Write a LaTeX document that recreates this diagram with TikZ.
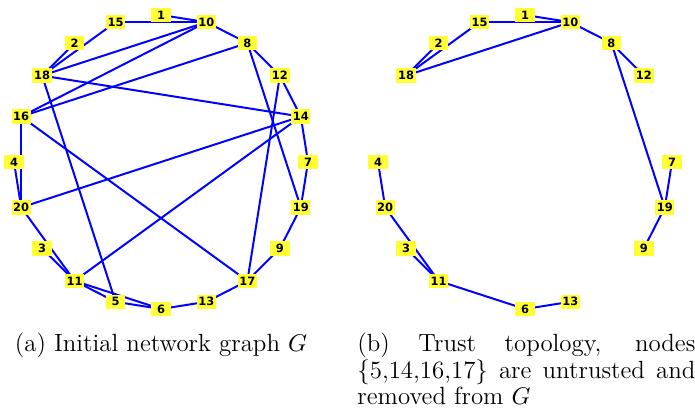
\documentclass[tikz,border=0pt]{standalone}
\usepackage{fontspec}
\newfontfamily\labelfont{DejaVu Sans}
\usetikzlibrary{backgrounds}
\definecolor{nodeyellow}{RGB}{255,255,51}
\definecolor{edgeblue}{RGB}{0,0,255}
\tikzset{
  vertex/.style={fill=nodeyellow, minimum width=8.8pt, minimum height=6.6pt,
    inner sep=0pt, font=\labelfont\bfseries\fontsize{5.2}{5.5}\selectfont},
  link/.style={draw=edgeblue, line width=0.9pt},
  caption/.style={inner sep=0pt, font=\fontsize{11.3}{12}\selectfont},
}
\begin{document}
\begin{tikzpicture}[x=0.4545pt,y=0.4545pt]
\useasboundingbox (0,0) rectangle (695,412);

% (a) initial network graph: 20 nodes on a circle
\begin{scope}[shift={(161,250)}]
  \foreach \n/\t in {1/90,10/72,8/54,12/36,14/18,7/0,19/-18,9/-36,17/-54,13/-72,
                     6/-90,5/-108,11/-126,3/-144,20/-162,4/180,16/162,18/144,2/126,15/108}
    \node[vertex] (a\n) at (\t:147) {\n};
\end{scope}
\begin{scope}[on background layer]
  \foreach \u/\v in {1/10,15/10,15/18,2/18,10/18,10/16,10/8,8/16,8/12,8/19,
                     12/14,12/17,14/7,7/19,18/14,14/20,14/11,16/20,4/20,16/17,
                     18/5,20/11,3/11,11/5,11/6,5/6,6/13,13/17,17/9,9/19}
    \draw[link] (a\u.center) -- (a\v.center);
\end{scope}

% (b) trust topology: untrusted nodes 5, 14, 16, 17 removed
\begin{scope}[shift={(525,250)}]
  \foreach \n/\t in {1/90,10/72,8/54,12/36,7/0,19/-18,9/-36,13/-72,
                     6/-90,11/-126,3/-144,20/-162,4/180,18/144,2/126,15/108}
    \node[vertex] (b\n) at (\t:147) {\n};
\end{scope}
\begin{scope}[on background layer]
  \foreach \u/\v in {1/10,15/10,15/18,2/18,10/18,10/8,8/12,8/19,7/19,
                     4/20,20/11,3/11,11/6,6/13,9/19}
    \draw[link] (b\u.center) -- (b\v.center);
\end{scope}

% captions
\node[caption, anchor=base] (capa) at (161,60) {(a) Initial network graph $G$};
\node[caption, anchor=base west] (capb) at (357,60)
  {\parbox[t]{153.6pt}{\hyphenpenalty=10000
   (b) Trust topology, nodes\linebreak \{5,14,16,17\} are untrusted and\linebreak removed from $G$}};
\end{tikzpicture}
\end{document}
